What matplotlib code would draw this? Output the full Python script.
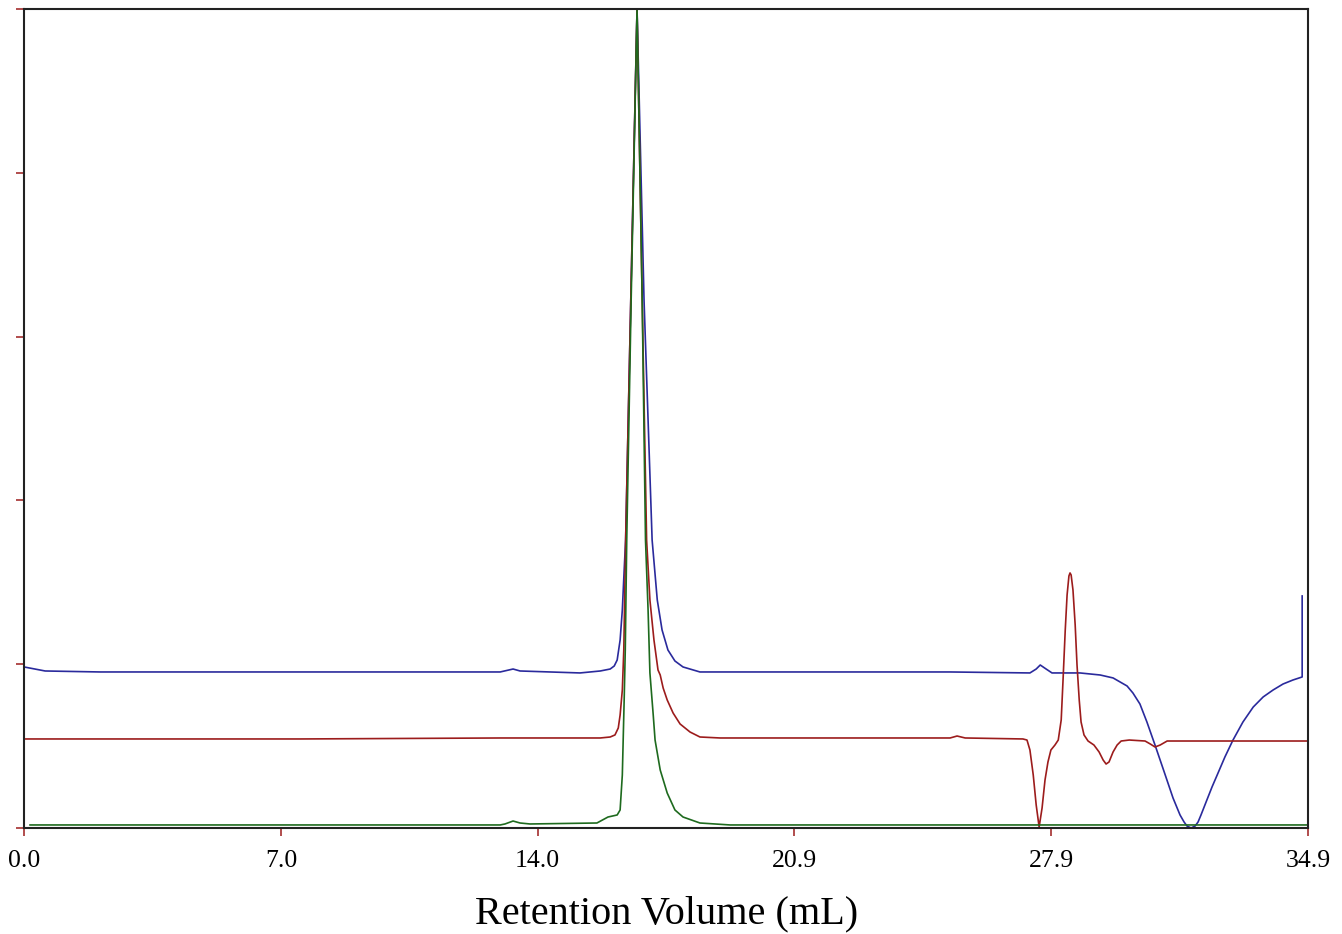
import numpy as np
import matplotlib
matplotlib.use("Agg")
import matplotlib.pyplot as plt

# retention volume (mL) and detector response (% of peak)
blue_x = [0.00, 0.57, 2.07, 7.50, 12.94, 13.29, 13.48, 15.11, 15.66, 15.93, 16.04, 16.12,
          16.20, 16.26, 16.31, 16.35, 16.49, 16.66, 16.85, 17.07, 17.21, 17.34, 17.50, 17.69,
          17.91, 18.37, 21.09, 25.17, 27.34, 27.51, 27.62, 27.78, 27.94, 28.70, 29.25,
          29.60, 29.79, 29.98, 30.14, 30.33, 30.52, 30.74, 30.99, 31.23, 31.42, 31.53, 31.61,
          31.72, 31.83, 31.91, 31.99, 32.15, 32.29, 32.43, 32.64, 32.86, 33.13, 33.41, 33.68,
          33.95, 34.22, 34.49, 34.74, 34.74]
blue_y = [19.66, 19.17, 19.05, 19.05, 19.05, 19.41, 19.17, 18.93, 19.17, 19.41, 19.78, 20.51,
          22.95, 26.62, 31.50, 35.16, 64.47, 100.0, 64.47, 35.16, 27.84, 24.18, 21.73, 20.39,
          19.66, 19.05, 19.05, 19.05, 18.93, 19.41, 19.90, 19.41, 18.93, 18.93, 18.68,
          18.32, 17.83, 17.34, 16.48, 15.14, 12.94, 10.13, 6.84, 3.66, 1.59, 0.73, 0.24,
          0.00, 0.24, 0.73, 1.59, 3.42, 5.01, 6.47, 8.67, 10.74, 12.94, 14.77, 16.00,
          16.85, 17.58, 18.07, 18.44, 28.33]

red_x = [0.00, 7.50, 12.94, 15.66, 15.93, 16.06, 16.15, 16.20, 16.26, 16.30, 16.35, 16.49,
         16.66, 16.80, 16.92, 17.01, 17.12, 17.23, 17.29, 17.37, 17.48, 17.64, 17.83, 18.10,
         18.37, 18.92, 25.17, 25.36, 25.58, 27.15, 27.26, 27.34, 27.43, 27.51, 27.59, 27.67,
         27.75, 27.83, 27.91, 28.02, 28.11, 28.19, 28.24, 28.30, 28.35, 28.40, 28.43, 28.46,
         28.51, 28.57, 28.62, 28.68, 28.73, 28.81, 28.92, 29.08, 29.22, 29.33, 29.41, 29.49,
         29.60, 29.71, 29.82, 30.04, 30.47, 30.61, 30.74, 30.88, 31.07, 34.90]
red_y = [10.87, 10.87, 10.99, 10.99, 11.11, 11.36, 12.21, 13.80, 16.85, 21.73, 35.16, 64.47,
         100.0, 64.47, 35.16, 27.84, 22.95, 19.29, 18.68, 17.09, 15.63, 14.04, 12.70, 11.72,
         11.11, 10.99, 10.99, 11.23, 10.99, 10.87, 10.74, 9.52, 6.47, 2.81, 0.12, 2.44,
         5.86, 8.06, 9.52, 10.13, 10.74, 13.19, 18.07, 24.18, 28.45, 30.77, 31.14, 30.89,
         29.06, 24.79, 19.90, 15.63, 12.94, 11.36, 10.62, 10.13, 9.28, 8.30, 7.81, 8.06,
         9.28, 10.13, 10.62, 10.74, 10.62, 10.26, 9.89, 10.13, 10.62, 10.62]

green_x = [0.16, 12.94, 13.07, 13.29, 13.48, 13.75, 15.57, 15.87, 16.12, 16.20, 16.26, 16.31,
           16.34, 16.38, 16.50, 16.66, 16.80, 16.89, 16.96, 17.01, 17.10, 17.15, 17.29, 17.48,
           17.69, 17.91, 18.37, 19.19, 34.90]
green_y = [0.37, 0.37, 0.49, 0.85, 0.61, 0.49, 0.61, 1.34, 1.59, 2.20, 6.47, 15.63,
           21.73, 35.16, 64.47, 100.0, 64.47, 35.16, 26.62, 18.93, 13.80, 10.74, 7.08, 4.27,
           2.20, 1.34, 0.61, 0.37, 0.37]

xticks = [0.0, 6.98, 13.96, 20.94, 27.92, 34.9]
xtick_labels = ["0.0", "7.0", "14.0", "20.9", "27.9", "34.9"]
yticks = [0, 20, 40, 60, 80, 100]

plt.rcParams['font.family'] = ['Liberation Serif', 'DejaVu Serif']

fig = plt.figure(figsize=(13.42, 9.34), dpi=100)
ax = fig.add_axes([0.018, 0.1135, 0.9567, 0.8769])

ax.plot(blue_x, blue_y, color='#2a2a9c', lw=1.2)
ax.plot(red_x, red_y, color='#9c1c1c', lw=1.2)
ax.plot(green_x, green_y, color='#1e6a1e', lw=1.2)

ax.set_xlim(0, 34.9)
ax.set_ylim(0, 100)
ax.set_xticks(xticks)
ax.set_xticklabels(xtick_labels)
ax.set_yticks(yticks)
ax.set_yticklabels([])

for s in ax.spines.values():
    s.set_linewidth(1.5)
    s.set_color('#222222')

ax.tick_params(axis='both', direction='out', length=6, width=1.1, color='#9c1c1c',
               labelsize=18.5, pad=10)
ax.set_xlabel("Retention Volume (mL)", fontsize=29, labelpad=17)

fig.savefig("out.png", dpi=100)
